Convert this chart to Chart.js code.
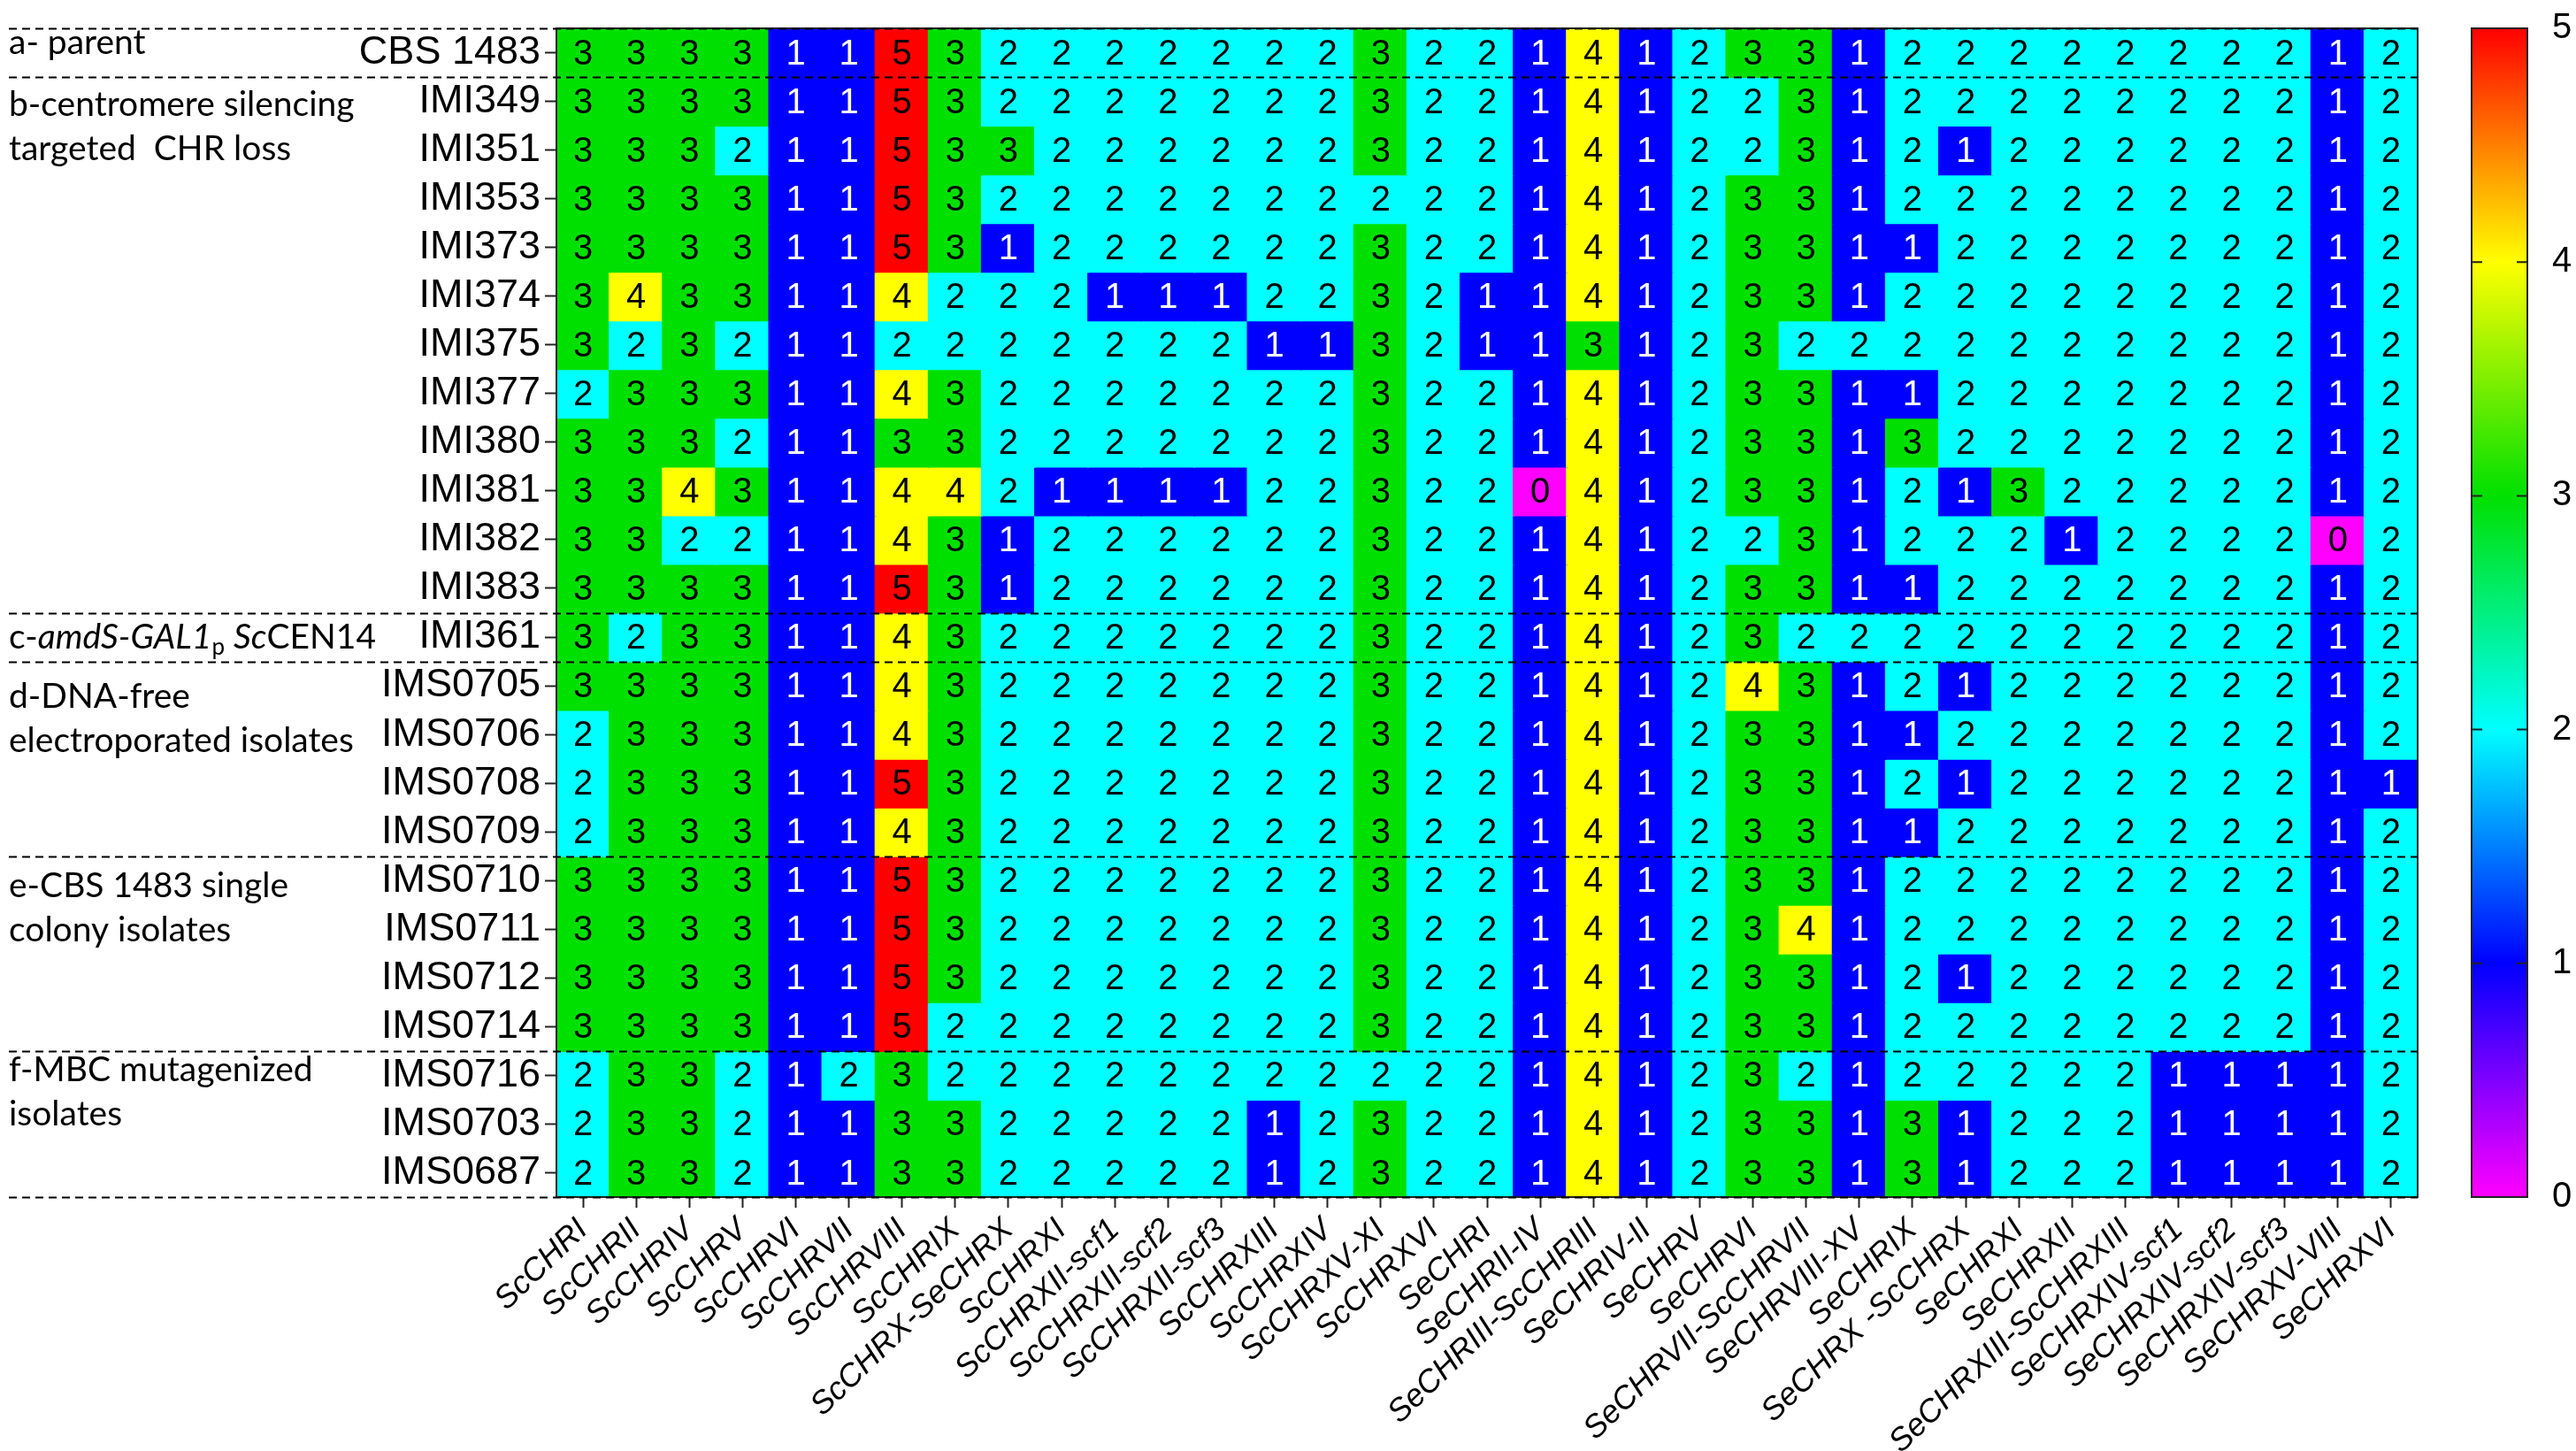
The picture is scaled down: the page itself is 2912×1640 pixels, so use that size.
<!DOCTYPE html>
<html lang="en">
<head>
<meta charset="UTF-8" />
<title>Chromosome copy number heatmap</title>
<script src="https://cdn.jsdelivr.net/npm/chart.js"></script>
<style>
  body { margin: 0; background: #fff; }
  #wrap { width: 2912px; height: 1640px; position: relative; }
</style>
</head>
<body>
<div id="wrap"><canvas id="heat"></canvas></div>
<script>
// columns: chromosomes / chromosome segments
const chromosomes = [
  'ScCHRI', 'ScCHRII', 'ScCHRIV', 'ScCHRV', 'ScCHRVI', 'ScCHRVII', 'ScCHRVIII', 'ScCHRIX',
  'ScCHRX-SeCHRX', 'ScCHRXI', 'ScCHRXII-scf1', 'ScCHRXII-scf2', 'ScCHRXII-scf3', 'ScCHRXIII',
  'ScCHRXIV', 'ScCHRXV-XI', 'ScCHRXVI', 'SeCHRI', 'SeCHRII-IV', 'SeCHRIII-ScCHRIII', 'SeCHRIV-II',
  'SeCHRV', 'SeCHRVI', 'SeCHRVII-ScCHRVII', 'SeCHRVIII-XV', 'SeCHRIX', 'SeCHRX -ScCHRX', 'SeCHRXI',
  'SeCHRXII', 'SeCHRXIII-ScCHRXIII', 'SeCHRXIV-scf1', 'SeCHRXIV-scf2', 'SeCHRXIV-scf3',
  'SeCHRXV-VIII', 'SeCHRXVI'
];

// rows: strains
const strains = [
  'CBS 1483', 'IMI349', 'IMI351', 'IMI353', 'IMI373', 'IMI374', 'IMI375', 'IMI377', 'IMI380',
  'IMI381', 'IMI382', 'IMI383', 'IMI361', 'IMS0705', 'IMS0706', 'IMS0708', 'IMS0709',
  'IMS0710', 'IMS0711', 'IMS0712', 'IMS0714', 'IMS0716', 'IMS0703', 'IMS0687'
];

// copy number per strain (row) and chromosome (column)
const copyNumber = [
  [3,3,3,3,1,1,5,3, 2,2,2,2,2,2,2, 3, 2,2,1,4,1, 2,3,3,1,2,2,2,2,2,2,2,2,1,2],
  [3,3,3,3,1,1,5,3, 2,2,2,2,2,2,2, 3, 2,2,1,4,1, 2,2,3,1,2,2,2,2,2,2,2,2,1,2],
  [3,3,3,2,1,1,5,3, 3,2,2,2,2,2,2, 3, 2,2,1,4,1, 2,2,3,1,2,1,2,2,2,2,2,2,1,2],
  [3,3,3,3,1,1,5,3, 2,2,2,2,2,2,2, 2, 2,2,1,4,1, 2,3,3,1,2,2,2,2,2,2,2,2,1,2],
  [3,3,3,3,1,1,5,3, 1,2,2,2,2,2,2, 3, 2,2,1,4,1, 2,3,3,1,1,2,2,2,2,2,2,2,1,2],
  [3,4,3,3,1,1,4,2, 2,2,1,1,1,2,2, 3, 2,1,1,4,1, 2,3,3,1,2,2,2,2,2,2,2,2,1,2],
  [3,2,3,2,1,1,2,2, 2,2,2,2,2,1,1, 3, 2,1,1,3,1, 2,3,2,2,2,2,2,2,2,2,2,2,1,2],
  [2,3,3,3,1,1,4,3, 2,2,2,2,2,2,2, 3, 2,2,1,4,1, 2,3,3,1,1,2,2,2,2,2,2,2,1,2],
  [3,3,3,2,1,1,3,3, 2,2,2,2,2,2,2, 3, 2,2,1,4,1, 2,3,3,1,3,2,2,2,2,2,2,2,1,2],
  [3,3,4,3,1,1,4,4, 2,1,1,1,1,2,2, 3, 2,2,0,4,1, 2,3,3,1,2,1,3,2,2,2,2,2,1,2],
  [3,3,2,2,1,1,4,3, 1,2,2,2,2,2,2, 3, 2,2,1,4,1, 2,2,3,1,2,2,2,1,2,2,2,2,0,2],
  [3,3,3,3,1,1,5,3, 1,2,2,2,2,2,2, 3, 2,2,1,4,1, 2,3,3,1,1,2,2,2,2,2,2,2,1,2],
  [3,2,3,3,1,1,4,3, 2,2,2,2,2,2,2, 3, 2,2,1,4,1, 2,3,2,2,2,2,2,2,2,2,2,2,1,2],
  [3,3,3,3,1,1,4,3, 2,2,2,2,2,2,2, 3, 2,2,1,4,1, 2,4,3,1,2,1,2,2,2,2,2,2,1,2],
  [2,3,3,3,1,1,4,3, 2,2,2,2,2,2,2, 3, 2,2,1,4,1, 2,3,3,1,1,2,2,2,2,2,2,2,1,2],
  [2,3,3,3,1,1,5,3, 2,2,2,2,2,2,2, 3, 2,2,1,4,1, 2,3,3,1,2,1,2,2,2,2,2,2,1,1],
  [2,3,3,3,1,1,4,3, 2,2,2,2,2,2,2, 3, 2,2,1,4,1, 2,3,3,1,1,2,2,2,2,2,2,2,1,2],
  [3,3,3,3,1,1,5,3, 2,2,2,2,2,2,2, 3, 2,2,1,4,1, 2,3,3,1,2,2,2,2,2,2,2,2,1,2],
  [3,3,3,3,1,1,5,3, 2,2,2,2,2,2,2, 3, 2,2,1,4,1, 2,3,4,1,2,2,2,2,2,2,2,2,1,2],
  [3,3,3,3,1,1,5,3, 2,2,2,2,2,2,2, 3, 2,2,1,4,1, 2,3,3,1,2,1,2,2,2,2,2,2,1,2],
  [3,3,3,3,1,1,5,2, 2,2,2,2,2,2,2, 3, 2,2,1,4,1, 2,3,3,1,2,2,2,2,2,2,2,2,1,2],
  [2,3,3,2,1,2,3,2, 2,2,2,2,2,2,2, 2, 2,2,1,4,1, 2,3,2,1,2,2,2,2,2,1,1,1,1,2],
  [2,3,3,2,1,1,3,3, 2,2,2,2,2,1,2, 3, 2,2,1,4,1, 2,3,3,1,3,1,2,2,2,1,1,1,1,2],
  [2,3,3,2,1,1,3,3, 2,2,2,2,2,1,2, 3, 2,2,1,4,1, 2,3,3,1,3,1,2,2,2,1,1,1,1,2]
];

// strain groups: index of first row, and the text shown on the left
const groupStarts = [0, 1, 12, 13, 17, 21];
const groupNames = [
  ['a- parent'],
  ['b-centromere silencing', 'targeted  CHR loss'],
  [[['c-', ''], ['amdS-GAL1', 'italic'], ['p', 'sub'], [' ', ''], ['Sc', 'italic'], ['CEN14', '']]],
  ['d-DNA-free', 'electroporated isolates'],
  ['e-CBS 1483 single', 'colony isolates'],
  ['f-MBC mutagenized', 'isolates']
];

const scaleTicks = [0, 1, 2, 3, 4, 5];
const copyColors = ['#ff00ff', '#0000ff', '#00ffff', '#00e000', '#ffff00', '#ff0000'];

Chart.defaults.font.family = '"Liberation Sans", Arial, sans-serif';
Chart.defaults.color = '#000';

// numbers inside the cells
const cellText = {
  id: 'cellText',
  afterDatasetsDraw(chart) {
    const ctx = chart.ctx;
    ctx.save();
    ctx.font = '40px "Liberation Sans"';
    ctx.textAlign = 'center';
    ctx.textBaseline = 'middle';
    chart.data.datasets.forEach((ds, r) => {
      chart.getDatasetMeta(r).data.forEach((bar, c) => {
        const v = copyNumber[r][c];
        const p = bar.getCenterPoint();
        ctx.fillStyle = v === 1 ? '#fff' : '#000';
        ctx.fillText(String(v), p.x, p.y + 2);
      });
    });
    ctx.restore();
  }
};

// dashed separators, group names, frame and colour bar
const decorations = {
  id: 'decorations',
  afterDraw(chart) {
    const ctx = chart.ctx;
    const area = chart.chartArea;
    const y = chart.scales.y;
    ctx.save();

    ctx.strokeStyle = '#222';
    ctx.lineWidth = 2;
    ctx.strokeRect(area.left, area.top, area.right - area.left, area.bottom - area.top);

    ctx.setLineDash([9, 6]);
    ctx.strokeStyle = '#000';
    groupStarts.concat(strains.length).forEach(b => {
      const py = Math.round(y.getPixelForValue(b - 0.5)) + 0.5;
      ctx.beginPath();
      ctx.moveTo(10, py);
      ctx.lineTo(area.right, py);
      ctx.stroke();
    });
    ctx.setLineDash([]);

    const nudge = [-11, 4, 0, 12, 6, -6];
    ctx.fillStyle = '#000';
    ctx.textBaseline = 'middle';
    ctx.textAlign = 'left';
    groupNames.forEach((lines, g) => {
      const y0 = y.getPixelForValue(groupStarts[g]) + nudge[g];
      lines.forEach((line, i) => {
        const ly = y0 + i * 50;
        if (typeof line === 'string') {
          ctx.font = '39px Lato';
          ctx.fillText(line, 10, ly);
          return;
        }
        let x = 10;
        line.forEach(([txt, st]) => {
          ctx.font = st === 'italic' ? 'italic 39px Lato' : st === 'sub' ? '26px Lato' : '39px Lato';
          ctx.fillText(txt, x, st === 'sub' ? ly + 12 : ly);
          x += ctx.measureText(txt).width;
        });
      });
    });

    // colour bar
    const cb = chart.scales.cbar;
    const x0 = cb.left + 61, w = 63;
    const yTop = cb.getPixelForValue(scaleTicks[scaleTicks.length - 1]);
    const yBot = cb.getPixelForValue(scaleTicks[0]);
    const grad = ctx.createLinearGradient(0, yBot, 0, yTop);
    copyColors.forEach((col, i) => grad.addColorStop(i / (copyColors.length - 1), col));
    ctx.fillStyle = grad;
    ctx.fillRect(x0, yTop, w, yBot - yTop);
    ctx.strokeStyle = '#222';
    ctx.lineWidth = 2;
    ctx.strokeRect(x0, yTop, w, yBot - yTop);
    scaleTicks.slice(1, -1).forEach(v => {
      const py = cb.getPixelForValue(v);
      ctx.beginPath();
      ctx.moveTo(x0, py); ctx.lineTo(x0 + 12, py);
      ctx.moveTo(x0 + w - 12, py); ctx.lineTo(x0 + w, py);
      ctx.stroke();
    });
    ctx.restore();
  }
};

const datasets = strains.map((name, r) => ({
  label: name,
  data: chromosomes.map(() => [r - 0.5, r + 0.5]),
  backgroundColor: copyNumber[r].map(v => copyColors[v]),
  borderWidth: 0,
  inflateAmount: 1,
  grouped: false,
  barPercentage: 1,
  categoryPercentage: 1
}));

new Chart(document.getElementById('heat'), {
  type: 'bar',
  data: { labels: chromosomes, datasets: datasets },
  options: {
    responsive: true,
    maintainAspectRatio: false,
    devicePixelRatio: 1,
    animation: false,
    layout: { padding: { top: 25, left: 0, right: 0, bottom: 0 } },
    plugins: { legend: { display: false }, tooltip: { enabled: false } },
    scales: {
      x: {
        type: 'category',
        offset: true,
        grid: { drawOnChartArea: false, offset: false, tickLength: 12, tickColor: '#222', tickWidth: 2 },
        border: { color: '#222', width: 2 },
        ticks: {
          autoSkip: false, minRotation: 44, maxRotation: 44, padding: 4,
          font: { size: 36, style: 'italic' }
        },
        afterFit: axis => { axis.height = 287; }
      },
      y: {
        type: 'linear',
        reverse: true,
        min: -0.5,
        max: strains.length - 0.5,
        afterBuildTicks: axis => { axis.ticks = strains.map((s, i) => ({ value: i })); },
        grid: { drawOnChartArea: false, tickLength: 13, tickColor: '#222', tickWidth: 2 },
        border: { color: '#222', width: 2 },
        ticks: { autoSkip: false, padding: 5, font: { size: 45 }, callback: v => strains[v] },
        afterFit: axis => { axis.width = 629; }
      },
      cbar: {
        type: 'linear',
        position: 'right',
        min: 0,
        max: 5,
        afterBuildTicks: axis => { axis.ticks = scaleTicks.map(v => ({ value: v })); },
        // invisible long ticks push the labels to the right of the colour bar
        grid: { drawOnChartArea: false, tickLength: 148, color: 'rgba(0,0,0,0)' },
        border: { display: false },
        ticks: { padding: 4, font: { size: 40 } },
        afterFit: axis => { axis.width = 179; }
      }
    }
  },
  plugins: [cellText, decorations]
});
</script>
</body>
</html>
